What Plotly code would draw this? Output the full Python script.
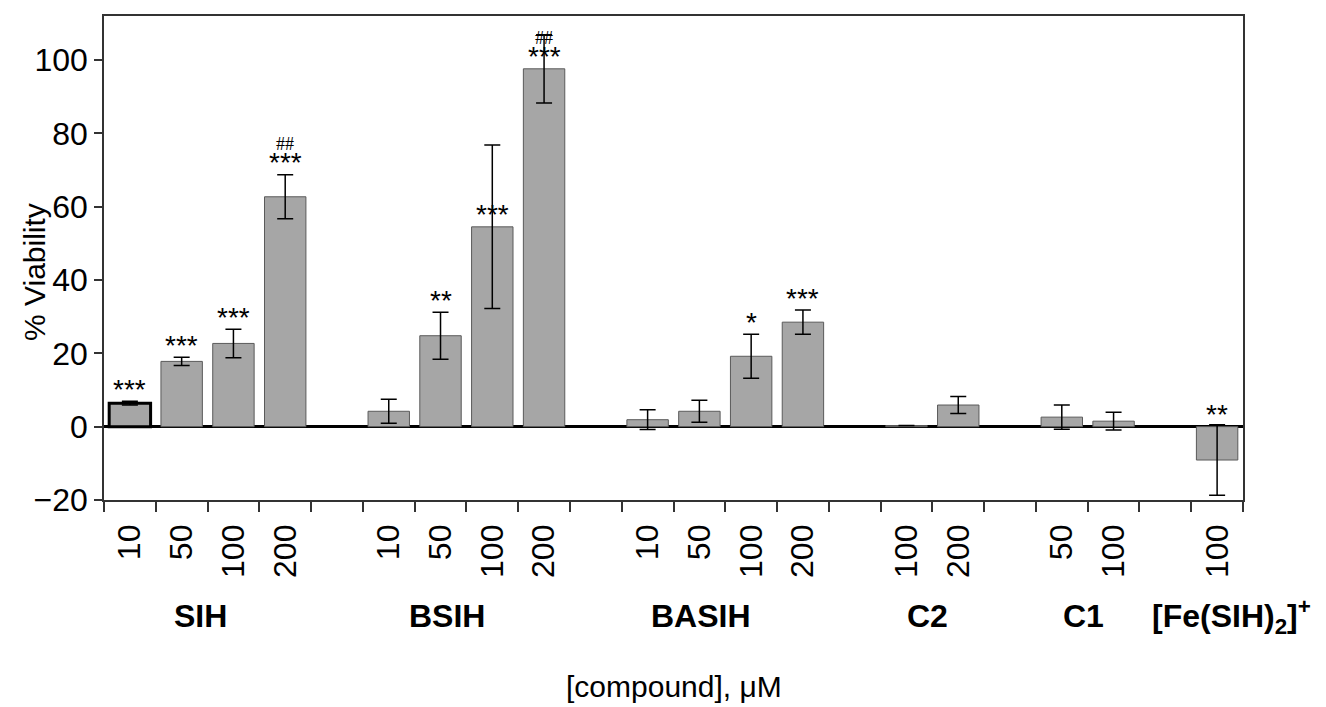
import plotly.graph_objects as go

# ---- data ----
groups = ["SIH", "BSIH", "BASIH", "C2", "C1", "[Fe(SIH)<sub>2</sub>]<sup>+</sup>"]
doses = [["10", "50", "100", "200"],
         ["10", "50", "100", "200"],
         ["10", "50", "100", "200"],
         ["100", "200"],
         ["50", "100"],
         ["100"]]
viability = [[6.4, 17.8, 22.7, 62.7],
             [4.2, 24.8, 54.5, 97.6],
             [1.9, 4.2, 19.2, 28.5],
             [0.3, 5.9],
             [2.6, 1.5],
             [-9.1]]
errors = [[0.5, 1.1, 3.9, 6.0],
          [3.3, 6.4, 22.3, 9.3],
          [2.7, 3.0, 6.0, 3.3],
          [0.0, 2.3],
          [3.3, 2.4],
          [9.6]]
stars = [["***", "***", "***", "***"],
         ["", "**", "***", "***"],
         ["", "", "*", "***"],
         ["", ""],
         ["", ""],
         ["**"]]
hashes = [["", "", "", "##"],
          ["", "", "", "##"],
          ["", "", "", ""],
          ["", ""],
          ["", ""],
          [""]]
mark_on_bar = [[False, False, False, False],
               [False, False, True, True],
               [False, False, False, False],
               [False, False],
               [False, False],
               [False]]

# ---- build slot positions (one empty slot between groups) ----
xs, ys, es, tt, st, hs, onbar, group_centers = [], [], [], [], [], [], [], []
pos = 0
for gi, g in enumerate(groups):
    start = pos
    for j in range(len(doses[gi])):
        xs.append(pos)
        ys.append(viability[gi][j])
        es.append(errors[gi][j])
        tt.append(doses[gi][j])
        st.append(stars[gi][j])
        hs.append(hashes[gi][j])
        onbar.append(mark_on_bar[gi][j])
        pos += 1
    group_centers.append((start + pos - 1) / 2)
    if gi < len(groups) - 1:
        pos += 1
n_slots = pos  # number of slots (last index = n_slots - 1)

line_w = [3 if i == 0 else 1 for i in range(len(xs))]
line_c = ["black" if i == 0 else "#5a5a5a" for i in range(len(xs))]

FONT = "Liberation Sans, Arial, sans-serif"

fig = go.Figure()
fig.add_trace(go.Bar(
    x=xs, y=ys, width=0.8,
    marker=dict(color="#a6a6a6", line=dict(color=line_c, width=line_w)),
    error_y=dict(type="data", array=es, visible=True, color="black",
                 thickness=1.5, width=8),
    showlegend=False, hoverinfo="skip",
))

annotations = []
for x, y, e, s, h, ob in zip(xs, ys, es, st, hs, onbar):
    anchor = y if ob else y + e
    if y < 0:
        anchor = 0
    if s:
        annotations.append(dict(x=x, y=anchor, xref="x", yref="y", text=s,
                                showarrow=False, yanchor="middle",
                                yshift=12, font=dict(family=FONT, size=28, color="black")))
    if h:
        annotations.append(dict(x=x, y=anchor, xref="x", yref="y", text=h,
                                showarrow=False, yanchor="middle",
                                yshift=31, font=dict(family="Liberation Serif, Times New Roman, serif",
                                                     size=18, color="black")))

group_shift = [-7, -19, -24, -5, -4, 14]
for gc, g, sh in zip(group_centers, groups, group_shift):
    annotations.append(dict(x=gc, y=-0.24, xref="x", yref="paper", text="<b>%s</b>" % g,
                            showarrow=False, yanchor="middle", xshift=sh,
                            font=dict(family=FONT, size=32, color="black")))

annotations.append(dict(x=0.5, y=-0.386, xref="paper", yref="paper",
                        text="[compound], \u03bcM", showarrow=False, yanchor="middle",
                        font=dict(family=FONT, size=30, color="black")))
annotations.append(dict(x=-0.0615, y=0.471, xref="paper", yref="paper",
                        text="% Viability", showarrow=False, textangle=-90,
                        xanchor="center", yanchor="middle",
                        font=dict(family=FONT, size=30, color="black")))

fig.update_layout(
    width=1326, height=707,
    margin=dict(l=104, r=83, t=16, b=207, autoexpand=False),
    paper_bgcolor="white", plot_bgcolor="white",
    font=dict(family=FONT, color="black"),
    annotations=annotations,
    bargap=0.2,
)
fig.update_xaxes(
    range=[-0.5, n_slots - 0.5], automargin=False,
    tickmode="array", tickvals=xs, ticktext=tt, tickangle=-90,
    tickfont=dict(family=FONT, size=32, color="black"),
    ticks="", showgrid=False, zeroline=False,
    showline=True, linecolor="#333333", linewidth=1.5, mirror=True,
    ticklabelstandoff=10,
    minor=dict(tickmode="array",
               tickvals=[v - 0.5 for v in range(n_slots + 1)],
               ticks="outside", ticklen=10, tickcolor="#333333", tickwidth=1.5,
               showgrid=False),
)
fig.update_yaxes(
    range=[-20, 112], automargin=False,
    tickmode="array", tickvals=[-20, 0, 20, 40, 60, 80, 100],
    ticks="outside", ticklen=8, tickcolor="#333333", tickwidth=1.5,
    tickfont=dict(family=FONT, size=32, color="black"),
    showgrid=False, zeroline=True, zerolinecolor="black", zerolinewidth=3,
    showline=True, linecolor="#333333", linewidth=1.5, mirror=True,
)

fig.write_html("out.html", config={"displayModeBar": False},
               post_script="document.body.style.margin='0';document.body.style.overflow='hidden';")
